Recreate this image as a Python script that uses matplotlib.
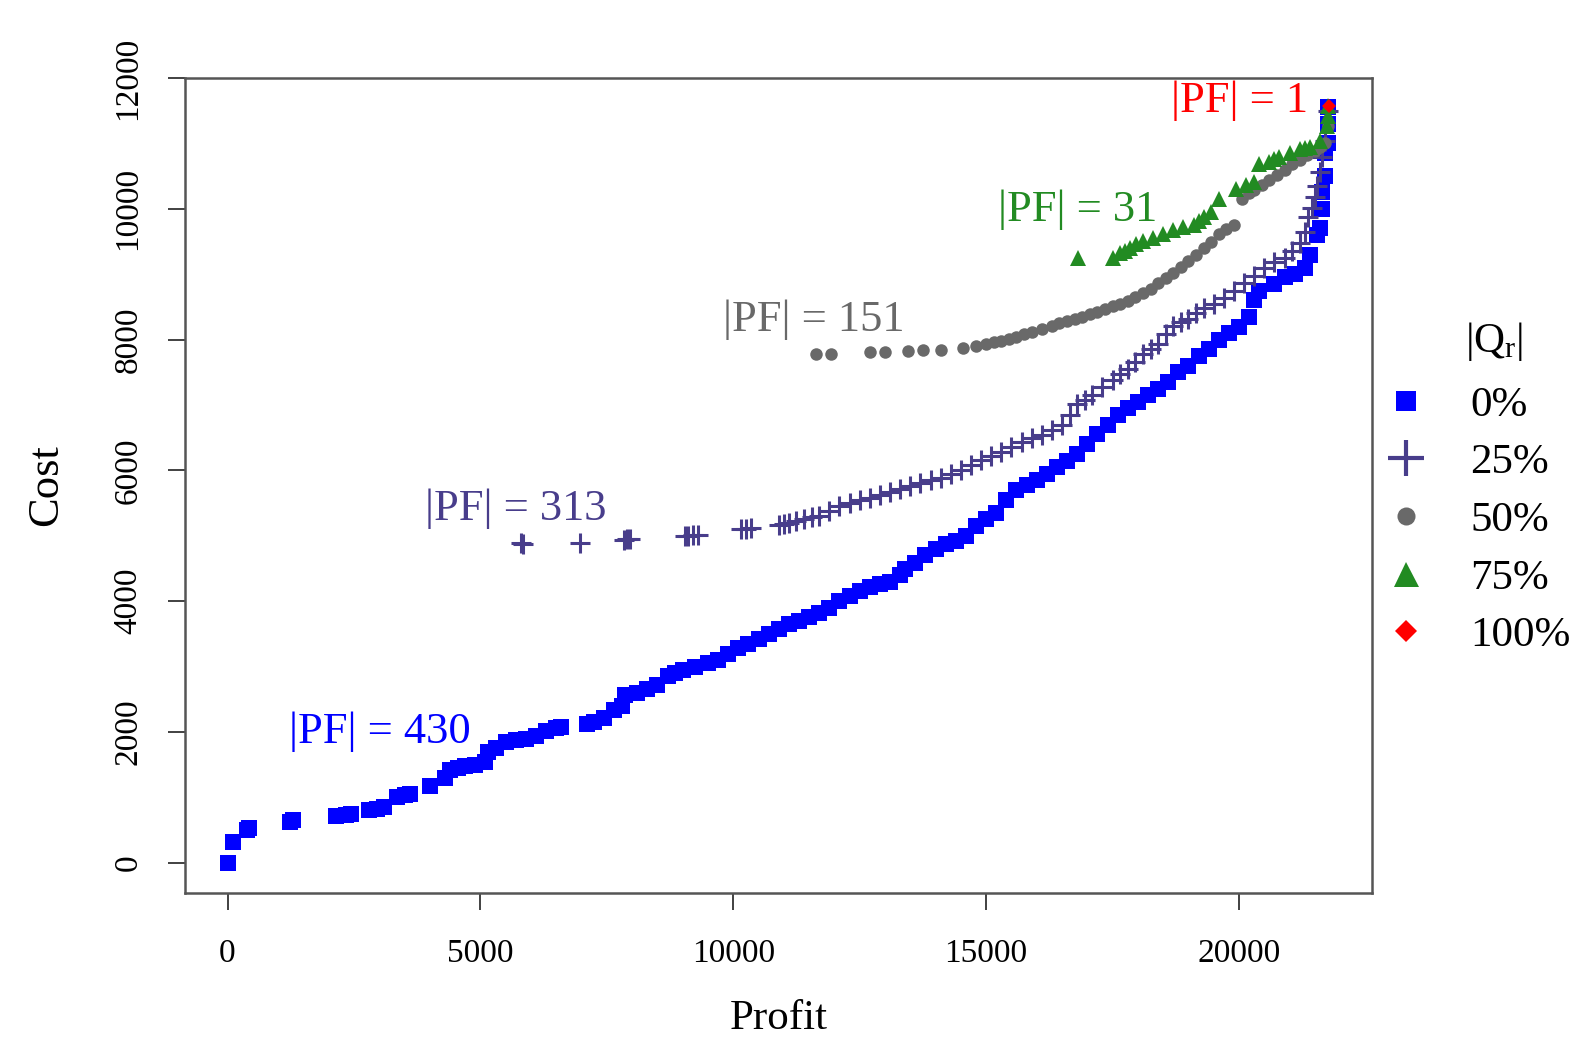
import matplotlib
matplotlib.use("Agg")
import matplotlib.pyplot as plt
from matplotlib.lines import Line2D

plt.rcParams["font.family"] = ["Liberation Serif", "DejaVu Serif"]
plt.rcParams["mathtext.fontset"] = "custom"
plt.rcParams["mathtext.rm"] = "Liberation Serif"
plt.rcParams["mathtext.it"] = "Liberation Serif:italic"

# Front |Qr| = 0% (|PF| = 430)
profit_0 = [0, 100, 380, 420, 1230, 1300, 2150, 2350, 2450, 2800, 2950, 3100, 3350, 3500,
            3600, 4000, 4300, 4400, 4550, 4700, 4900, 5100, 5150, 5300, 5500, 5700, 5900,
            6100, 6300, 6500, 6600, 7100, 7250, 7450, 7650, 7800, 7850, 8100, 8300, 8500,
            8700, 8850, 9000, 9250, 9500, 9700, 9900, 10100, 10300, 10500, 10700, 10900,
            11100, 11300, 11500, 11700, 11900, 12100, 12300, 12500, 12700, 12900, 13100,
            13300, 13400, 13600, 13800, 14000, 14200, 14400, 14600, 14800, 15000, 15200,
            15400, 15600, 15800, 16000, 16200, 16400, 16600, 16800, 17000, 17200, 17400,
            17600, 17800, 18000, 18200, 18400, 18600, 18800, 19000, 19200, 19400, 19600,
            19800, 20000, 20200, 20300, 20400, 20700, 20900, 21100, 21300, 21400, 21550,
            21600, 21650, 21650, 21700, 21700, 21750, 21750, 21750]
cost_0 = [0, 325, 500, 530, 630, 650, 720, 730, 740, 800, 820, 860, 1000, 1040,
          1050, 1180, 1300, 1420, 1450, 1480, 1500, 1540, 1700, 1760, 1850, 1880, 1900,
          1940, 2020, 2060, 2080, 2120, 2150, 2220, 2330, 2400, 2560, 2600, 2650, 2720,
          2850, 2900, 2950, 3000, 3050, 3100, 3200, 3280, 3350, 3420, 3500, 3580,
          3650, 3700, 3760, 3820, 3900, 4000, 4080, 4150, 4220, 4270, 4300,
          4400, 4500, 4580, 4700, 4800, 4870, 4920, 5000, 5150, 5250, 5350,
          5550, 5700, 5780, 5850, 5950, 6050, 6150, 6250, 6400, 6550, 6700,
          6850, 6950, 7050, 7150, 7250, 7350, 7500, 7600, 7750, 7850, 8000,
          8100, 8200, 8350, 8600, 8750, 8850, 8950, 9000, 9100, 9300, 9600,
          9700, 10000, 10250, 10500, 10850, 11000, 11300, 11550]

# Front |Qr| = 25% (|PF| = 313)
profit_25 = [5800, 5850, 6960, 7840, 7900, 7960, 9050, 9100, 9200, 9300, 10150, 10250,
             10350, 10900, 11000, 11100, 11250, 11400, 11550, 11700, 11900, 12100, 12300,
             12500, 12700, 12900, 13100, 13300, 13500, 13700, 13900, 14100, 14300, 14500,
             14700, 14900, 15100, 15300, 15500, 15700, 15900, 16100, 16300, 16500, 16650,
             16800, 16950, 17100, 17300, 17500, 17650, 17800, 17950, 18100, 18250, 18400,
             18550, 18700, 18850, 19000, 19150, 19300, 19500, 19700, 19900, 20100, 20300,
             20500, 20700, 20900, 21050, 21200, 21300, 21360, 21450, 21500, 21550, 21600,
             21650, 21700, 21760]
cost_25 = [4890, 4880, 4890, 4930, 4950, 4950, 5000, 5000, 5010, 5020, 5100, 5110,
           5120, 5170, 5180, 5190, 5220, 5250, 5280, 5310, 5380, 5460, 5500,
           5540, 5580, 5620, 5670, 5720, 5760, 5800, 5850, 5890, 5940, 6000,
           6080, 6160, 6220, 6280, 6360, 6435, 6490, 6540, 6620, 6700, 6850,
           7010, 7080, 7160, 7270, 7390, 7470, 7550, 7660, 7780, 7860, 7940,
           8080, 8210, 8270, 8320, 8400, 8480, 8550, 8630, 8750, 8865, 8980,
           9100, 9180, 9250, 9360, 9480, 9650, 9870, 10020, 10180, 10350, 10570,
           10800, 11030, 11490]

# Front |Qr| = 50% (|PF| = 151)
profit_50 = [11640, 11940, 12700, 13000, 13460, 13760, 14100, 14540, 14800, 15000, 15150,
             15300, 15450, 15600, 15750, 15900, 16100, 16300, 16450, 16600, 16750, 16900,
             17050, 17200, 17350, 17500, 17650, 17800, 17950, 18100, 18250, 18400, 18550,
             18700, 18850, 19000, 19150, 19300, 19450, 19600, 19750, 19900, 20060, 20200,
             20300, 20450, 20600, 20750, 20900, 21050, 21200, 21350, 21500, 21600, 21700,
             21760]
cost_50 = [7780, 7780, 7810, 7810, 7830, 7840, 7840, 7870, 7900, 7940, 7960,
           7980, 8010, 8040, 8080, 8120, 8170, 8215, 8250, 8280, 8310, 8350,
           8390, 8430, 8470, 8510, 8550, 8590, 8650, 8710, 8780, 8860, 8940,
           9020, 9110, 9200, 9300, 9400, 9500, 9610, 9690, 9760, 10150, 10240,
           10290, 10360, 10440, 10520, 10600, 10680, 10750, 10820, 10880, 10940, 11000,
           11260]

# Front |Qr| = 75% (|PF| = 31)
profit_75 = [16820, 17500, 17640, 17740, 17840, 17970, 18100, 18300, 18500, 18700, 18900,
             19100, 19200, 19300, 19440, 19600, 19940, 20140, 20300, 20400, 20600, 20700,
             20800, 21000, 21200, 21300, 21400, 21600, 21740, 21760, 21760]
cost_75 = [9250, 9250, 9330, 9360, 9400, 9460, 9510, 9560, 9610, 9670, 9720,
           9760, 9810, 9870, 9950, 10150, 10300, 10360, 10410, 10690, 10720, 10760,
           10800, 10850, 10910, 10930, 10950, 11030, 11260, 11420, 11570]

# Front |Qr| = 100% (|PF| = 1)
profit_100 = [21780]
cost_100 = [11570]

series_labels = ["0%", "25%", "50%", "75%", "100%"]
pf_texts = ["|PF| = 430", "|PF| = 313", "|PF| = 151", "|PF| = 31", "|PF| = 1"]
pf_pos = [(3020, 2010), (5700, 5415), (11600, 8310), (16800, 9990), (20000, 11650)]

colors = ["#0000FF", "#483D8B", "#696969", "#228B22", "#FF0000"]
markers = ["s", "+", "o", "^", "D"]
msizes = [11, 14, 9, 12, 7]

fig = plt.figure(figsize=(15.86, 10.42), dpi=100)
ax = fig.add_axes([0.1166, 0.1430, 0.7485, 0.7821])

data = [(profit_0, cost_0), (profit_25, cost_25), (profit_50, cost_50),
        (profit_75, cost_75), (profit_100, cost_100)]
for (px, cy), c, m, ms in zip(data, colors, markers, msizes):
    if m == "+":
        ax.plot(px, cy, ls="none", marker=m, color=c, ms=ms, mew=2.2)
    else:
        ax.plot(px, cy, ls="none", marker=m, color=c, ms=ms, mew=0)

for (tx, ty), t, c in zip(pf_pos, pf_texts, colors):
    ax.text(tx, ty, t, color=c, fontsize=32, ha="center", va="center")

ax.set_xlim(-842, 22630)
ax.set_ylim(-462, 12000)
ax.set_xticks([0, 5000, 10000, 15000, 20000])
ax.set_yticks([0, 2000, 4000, 6000, 8000, 10000, 12000])
ax.tick_params(axis="both", direction="out", length=12, width=1.3, labelsize=24,
               color="#333333", pad=18)
ax.tick_params(axis="x", pad=21)
for lab in ax.get_yticklabels():
    lab.set_rotation(90)
    lab.set_va("center")
for sp in ax.spines.values():
    sp.set_linewidth(1.8)
    sp.set_color("#555555")

ax.set_xlabel("Profit", fontsize=31)
ax.set_ylabel("Cost", fontsize=32)
ax.xaxis.set_label_coords(0.5, -0.131)
ax.yaxis.set_label_coords(-0.10, 0.5)

# legend: title as separate text, entries below
fig.text(0.924, 0.672, r"$|\mathrm{Q}_\mathrm{r}|$", fontsize=31, ha="left", va="center")
handles = []
for c, m, lab in zip(colors, markers, series_labels):
    if m == "+":
        h = Line2D([], [], ls="none", marker=m, color=c, ms=26, mew=3)
    else:
        ms = {"s": 14, "o": 13, "^": 18, "D": 11}[m]
        h = Line2D([], [], ls="none", marker=m, color=c, ms=ms, mew=0)
    handles.append(h)
leg = fig.legend(handles=handles, labels=series_labels, loc="upper left",
                 bbox_to_anchor=(0.870, 0.630), frameon=False, fontsize=31,
                 handlelength=1.2, handletextpad=0.9, labelspacing=0.43,
                 borderaxespad=0, borderpad=0)

fig.savefig("out.png", dpi=100)
